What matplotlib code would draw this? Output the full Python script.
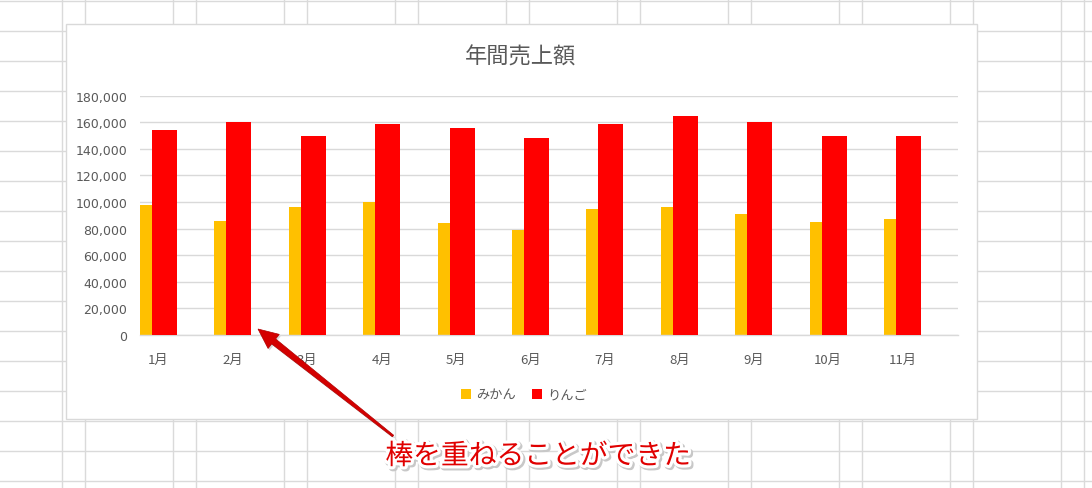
import matplotlib
matplotlib.use("Agg")
import matplotlib.pyplot as plt
import matplotlib.patheffects as pe
from matplotlib.patches import Rectangle, Polygon
from matplotlib.ticker import FuncFormatter
import numpy as np

plt.rcParams['font.family'] = ['Noto Sans CJK JP', 'DejaVu Sans']

months = ["1月", "2月", "3月", "4月", "5月", "6月", "7月", "8月", "9月", "10月", "11月"]
mikan = [98000, 86000, 96000, 100000, 84000, 79000, 95000, 96000, 91000, 85000, 87000]
ringo = [154000, 160000, 150000, 159000, 156000, 148000, 159000, 165000, 160000, 150000, 150000]
series_names = ["みかん", "りんご"]
yticks = [0, 20000, 40000, 60000, 80000, 100000, 120000, 140000, 160000, 180000]
title = "年間売上額"
note = "棒を重ねることができた"

W, H = 1092, 489
fig = plt.figure(figsize=(W / 100, H / 100), dpi=100)

# background spreadsheet layer (pixel coordinates, y down)
bg = fig.add_axes([0, 0, 1, 1])
bg.set_xlim(0, W)
bg.set_ylim(H, 0)
bg.axis('off')
gridc = '#dadada'
for k in range(10):
    for x0 in (62, 85):
        bg.axvline(x0 + 111 * k, color=gridc, lw=1.0, zorder=0)
for k in range(17):
    bg.axhline(2 + 30 * k, color=gridc, lw=1.0, zorder=0)
# chart box
bg.add_patch(Rectangle((66, 25), 977 - 66, 420 - 25, facecolor='white',
                       edgecolor='#d9d9d9', lw=1.0, zorder=1))
bg.text(521, 57, title, ha='center', va='center', fontsize=16, color='#595959', zorder=2)

# main plot
ax = fig.add_axes([140 / W, (H - 336) / H, (958 - 140) / W, (336 - 96.7) / H])
ax.set_facecolor('none')
x = np.arange(len(months))
bw = 0.336
ax.bar(x - 0.249, mikan, width=bw, align='edge', color='#ffc000', label=series_names[0], zorder=2)
ax.bar(x - 0.087, ringo, width=bw, align='edge', color='#ff0000', label=series_names[1], zorder=3)
ax.set_xlim(-0.249, 10.746)
ax.set_ylim(0, 180000)
ax.set_yticks(yticks)
ax.yaxis.set_major_formatter(FuncFormatter(lambda v, p: f"{int(v):,}"))
ax.set_xticks(x)
ax.set_xticklabels(months)
ax.grid(axis='y', color='#d9d9d9', lw=1.0, zorder=0)
ax.set_axisbelow(True)
for s in ['top', 'right', 'left']:
    ax.spines[s].set_visible(False)
ax.spines['bottom'].set_color('#d9d9d9')
ax.spines['bottom'].set_linewidth(1.0)
ax.tick_params(axis='both', length=0, colors='#595959', labelsize=9.5)
ax.tick_params(axis='y', pad=9)
ax.tick_params(axis='x', pad=13)
for t in ax.get_yticklabels():
    t.set_fontfamily('DejaVu Sans')
    t.set_fontsize(9)

fig.legend(loc='center', bbox_to_anchor=(524 / W, 1 - 396 / H), ncol=2, frameon=False,
           fontsize=9.5, labelcolor='#595959', handlelength=0.75, handleheight=0.75,
           handletextpad=0.4, columnspacing=1.2)

# overlay for annotation
ov = fig.add_axes([0, 0, 1, 1])
ov.set_xlim(0, W)
ov.set_ylim(H, 0)
ov.axis('off')
ov.set_facecolor('none')
tip = np.array([258.0, 330.0])
tail = np.array([393.0, 437.0])
d = tip - tail
L = np.hypot(*d)
u = d / L
n = np.array([-u[1], u[0]])
hl, hw = 20.0, 9.0
base = tip - u * hl
pts = [tail + n * 1.0, base + n * 3.2, base + n * hw, tip,
       base - n * hw, base - n * 3.2, tail - n * 1.0]
shadow = [p + np.array([1.5, 2.0]) for p in pts]
ov.add_patch(Polygon(shadow, closed=True, facecolor='#888888', edgecolor='none', alpha=0.3, zorder=4))
ov.add_patch(Polygon(pts, closed=True, facecolor='#d40000', edgecolor='#b00000', lw=0.5, zorder=5))

ov.text(538, 457, note, ha='center', va='center', fontsize=20, color='#e00000',
        fontweight='normal', zorder=6,
        path_effects=[pe.Stroke(linewidth=5, foreground='#c8c8c8', offset=(1.2, -1.2)),
                      pe.Stroke(linewidth=4.5, foreground='white'), pe.Normal()])

fig.savefig('out.png', dpi=100)
